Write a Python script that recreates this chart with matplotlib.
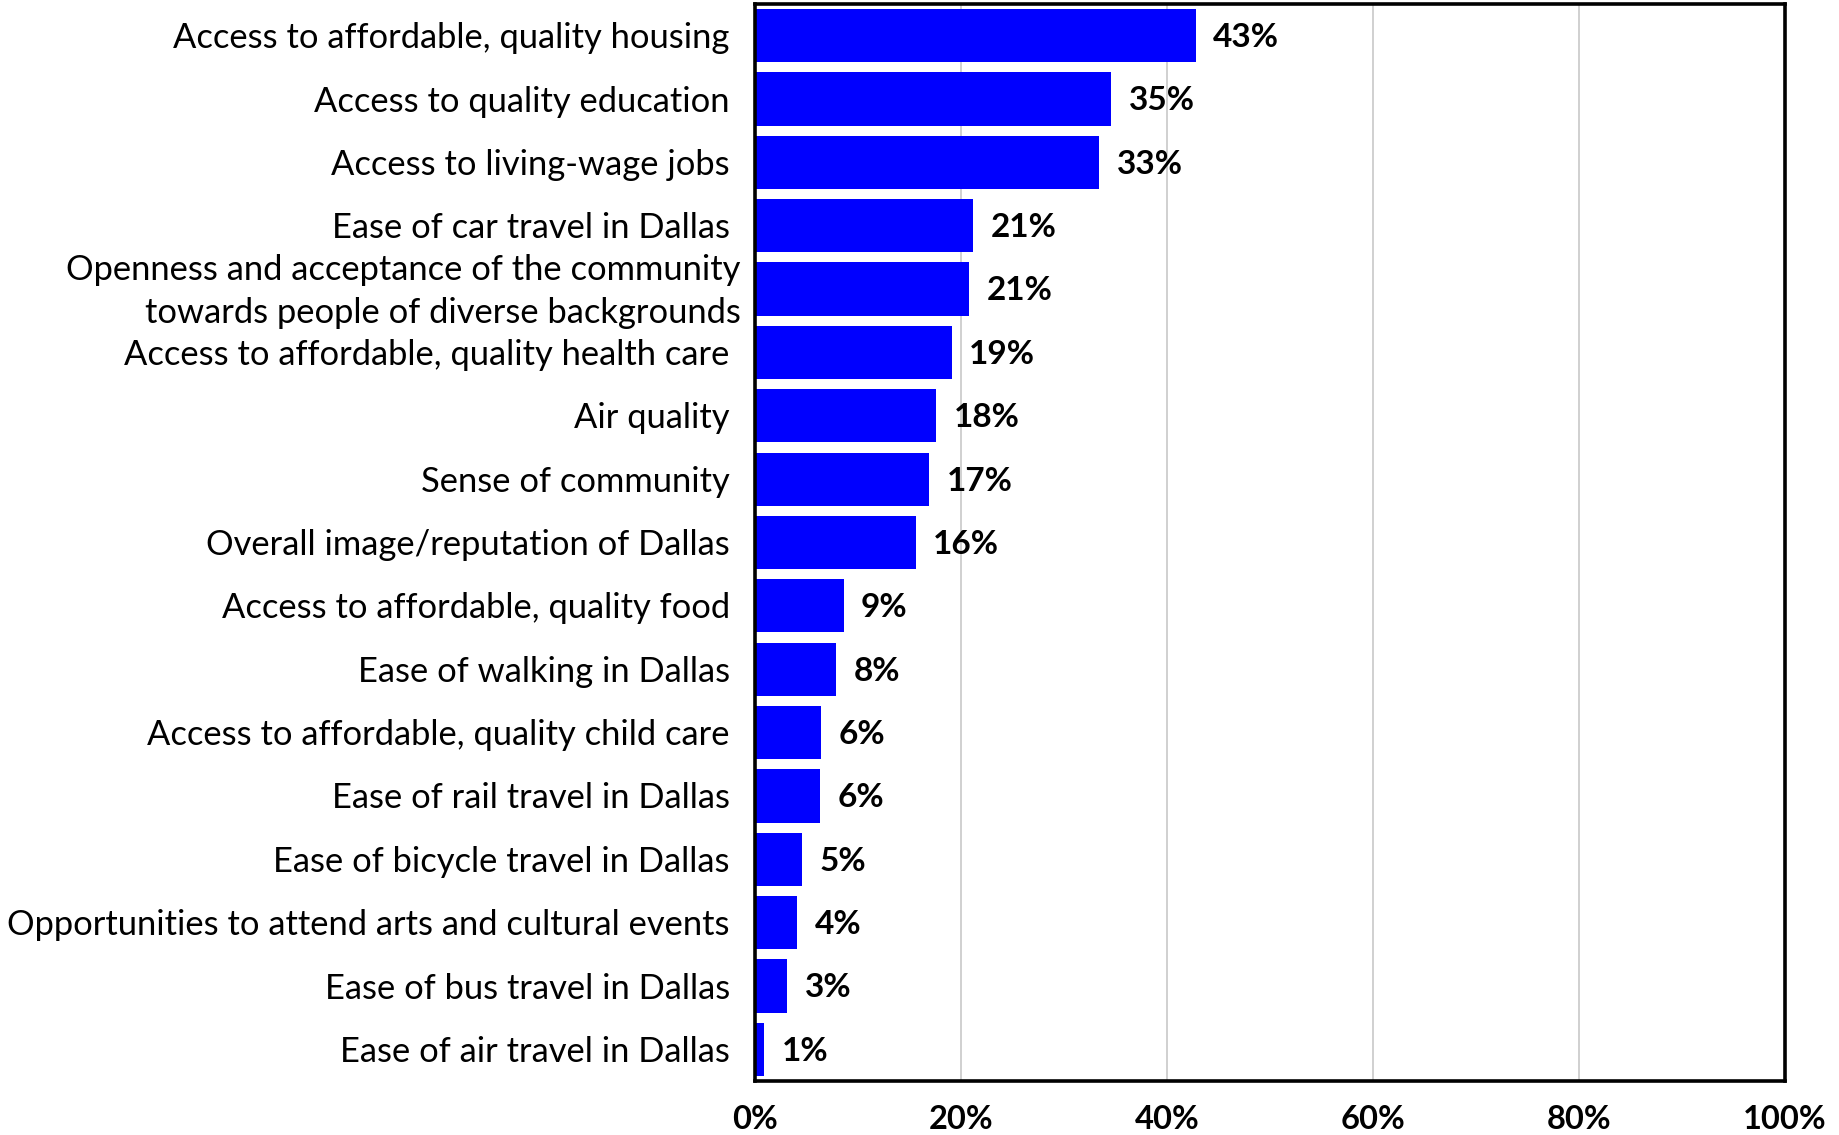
import matplotlib
matplotlib.use("Agg")
import matplotlib.pyplot as plt

# Survey results: share of respondents choosing each item
categories = [
    "Access to affordable, quality housing",
    "Access to quality education",
    "Access to living-wage jobs",
    "Ease of car travel in Dallas",
    "Openness and acceptance of the community\ntowards people of diverse backgrounds",
    "Access to affordable, quality health care",
    "Air quality",
    "Sense of community",
    "Overall image/reputation of Dallas",
    "Access to affordable, quality food",
    "Ease of walking in Dallas",
    "Access to affordable, quality child care",
    "Ease of rail travel in Dallas",
    "Ease of bicycle travel in Dallas",
    "Opportunities to attend arts and cultural events",
    "Ease of bus travel in Dallas",
    "Ease of air travel in Dallas",
]
values = [42.8, 34.6, 33.4, 21.2, 20.8, 19.1, 17.6, 16.9, 15.6,
          8.6, 7.9, 6.4, 6.3, 4.6, 4.1, 3.1, 0.9]
xticks = [0, 20, 40, 60, 80, 100]
xtick_labels = ["0%", "20%", "40%", "60%", "80%", "100%"]

FONT = "Lato"
FS = 24.8
FS_BOLD = 24

fig = plt.figure(figsize=(18.39, 11.35), dpi=100)
ax = fig.add_axes([755 / 1839, 1 - 1081 / 1135, 1030 / 1839, 1077 / 1135])

ypos = list(range(len(categories)))
ax.barh(ypos, values, height=0.84, color="#0000FF", zorder=2)

ax.set_xlim(0, 100)
ax.set_ylim(len(categories) - 0.5, -0.5)

ax.set_xticks(xticks)
ax.set_xticklabels(xtick_labels, fontfamily=FONT, fontsize=23.5, fontweight="bold")
ax.tick_params(axis="x", length=0, pad=17)
ax.set_yticks([])
ax.grid(axis="x", color="#c8c8c8", linewidth=1.2, zorder=0)
for s in ax.spines.values():
    s.set_linewidth(2.6)
    s.set_color("black")

# category labels, right-aligned left of the axes
ytr = ax.get_yaxis_transform()
for y, cat in zip(ypos, categories):
    off = -0.014 if "\n" in cat else -0.0245
    ax.text(off, y + 0.04, cat, transform=ytr, ha="right", va="center",
            fontfamily=FONT, fontsize=FS, linespacing=1.45)

# value labels at the end of each bar
for y, v in zip(ypos, values):
    ax.text(v + 1.7, y + 0.03, f"{v:.0f}%", ha="left", va="center",
            fontfamily=FONT, fontsize=FS_BOLD, fontweight="bold")

fig.savefig("out.png", dpi=100)
